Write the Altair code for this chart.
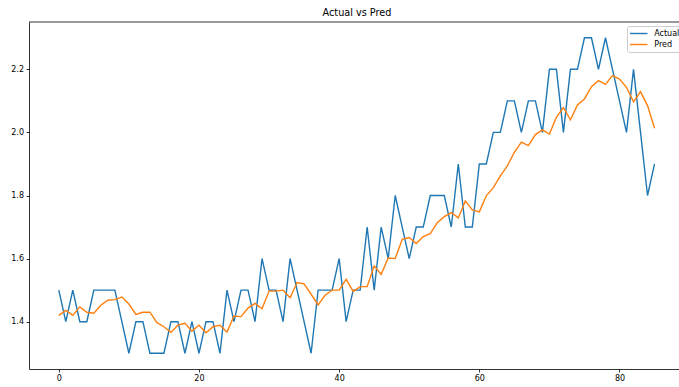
import altair as alt
import pandas as pd

# Observed series (step 0 .. 85)
actual = [
    1.5, 1.4, 1.5, 1.4, 1.4, 1.5, 1.5, 1.5, 1.5, 1.4,
    1.3, 1.4, 1.4, 1.3, 1.3, 1.3, 1.4, 1.4, 1.3, 1.4,
    1.3, 1.4, 1.4, 1.3, 1.5, 1.4, 1.5, 1.5, 1.4, 1.6,
    1.5, 1.5, 1.4, 1.6, 1.5, 1.4, 1.3, 1.5, 1.5, 1.5,
    1.6, 1.4, 1.5, 1.5, 1.7, 1.5, 1.7, 1.6, 1.8, 1.7,
    1.6, 1.7, 1.7, 1.8, 1.8, 1.8, 1.7, 1.9, 1.7, 1.7,
    1.9, 1.9, 2.0, 2.0, 2.1, 2.1, 2.0, 2.1, 2.1, 2.0,
    2.2, 2.2, 2.0, 2.2, 2.2, 2.3, 2.3, 2.2, 2.3, 2.2,
    2.1, 2.0, 2.2, 2.0, 1.8, 1.9,
]

# Model predictions for the same steps
pred = [
    1.420, 1.436, 1.420, 1.447, 1.430, 1.427, 1.452, 1.468, 1.470, 1.478,
    1.456, 1.423, 1.430, 1.430, 1.397, 1.384, 1.366, 1.389, 1.395, 1.370,
    1.389, 1.365, 1.384, 1.389, 1.367, 1.418, 1.416, 1.443, 1.458, 1.441,
    1.497, 1.497, 1.500, 1.476, 1.524, 1.520, 1.487, 1.453, 1.484, 1.500,
    1.500, 1.534, 1.496, 1.511, 1.511, 1.577, 1.550, 1.602, 1.600, 1.661,
    1.667, 1.648, 1.670, 1.679, 1.714, 1.733, 1.746, 1.729, 1.783, 1.754,
    1.748, 1.799, 1.825, 1.862, 1.894, 1.937, 1.969, 1.958, 1.993, 2.008,
    1.995, 2.048, 2.079, 2.040, 2.087, 2.106, 2.145, 2.164, 2.152, 2.180,
    2.169, 2.143, 2.097, 2.129, 2.085, 2.013,
]

series_names = ["Actual", "Pred"]
series_colors = ["#1f77b4", "#ff7f0e"]
x_ticks = [0, 20, 40, 60, 80]
y_ticks = [1.4, 1.6, 1.8, 2.0, 2.2]
x_domain = [-4.25, 88.49]
y_domain = [1.25, 2.35]

rows = []
for name, vals in zip(series_names, [actual, pred]):
    for i, v in enumerate(vals):
        rows.append({"step": i, "value": v, "series": name})
df = pd.DataFrame(rows)

FONT = "DejaVu Sans"

lines = alt.Chart(df).mark_line(strokeWidth=1.4).encode(
    x=alt.X(
        "step:Q",
        scale=alt.Scale(domain=x_domain, nice=False, zero=False),
        axis=alt.Axis(values=x_ticks, title=None, format="d"),
    ),
    y=alt.Y(
        "value:Q",
        scale=alt.Scale(domain=y_domain, nice=False, zero=False),
        axis=alt.Axis(values=y_ticks, title=None, format=".1f"),
    ),
    color=alt.Color(
        "series:N",
        scale=alt.Scale(domain=series_names, range=series_colors),
        legend=alt.Legend(
            title=None,
            orient="none",
            legendX=598,
            legendY=4,
            padding=3,
            fillColor="rgba(255,255,255,0.8)",
            strokeColor="#cccccc",
            cornerRadius=2,
            symbolType="M-2.5,0H2.5",
            symbolSize=49,
            symbolStrokeWidth=1.4,
            symbolOffset=4.25,
            labelOffset=11,
            rowPadding=2,
            labelFont=FONT,
            labelFontSize=8,
            labelColor="#000000",
        ),
    ),
    order=alt.Order("step:Q"),
)

# top frame line of the axes box
top_spine = alt.Chart(pd.DataFrame({"y": [y_domain[1]]})).mark_rule(
    color="#000000", strokeWidth=0.8
).encode(y=alt.Y("y:Q"))

chart = (
    alt.layer(lines, top_spine)
    .properties(
        width=650,
        height=347,
        title=alt.TitleParams(
            "Actual vs Pred",
            font=FONT,
            fontSize=9.7,
            fontWeight="normal",
            color="#000000",
            anchor="middle",
            frame="group",
            offset=4,
            dx=3,
        ),
        autosize=alt.AutoSizeParams(type="none"),
        padding={"left": 29, "top": 22, "right": 0, "bottom": 18},
    )
    .configure_view(stroke=None)
    .configure_axis(
        grid=False,
        domainColor="#000000",
        domainWidth=0.8,
        tickColor="#000000",
        tickWidth=0.8,
        tickSize=3,
        labelPadding=2.5,
        labelFont=FONT,
        labelFontSize=8,
        labelColor="#000000",
    )
)

chart.save("out.html", embed_options={"renderer": "svg", "actions": False})
